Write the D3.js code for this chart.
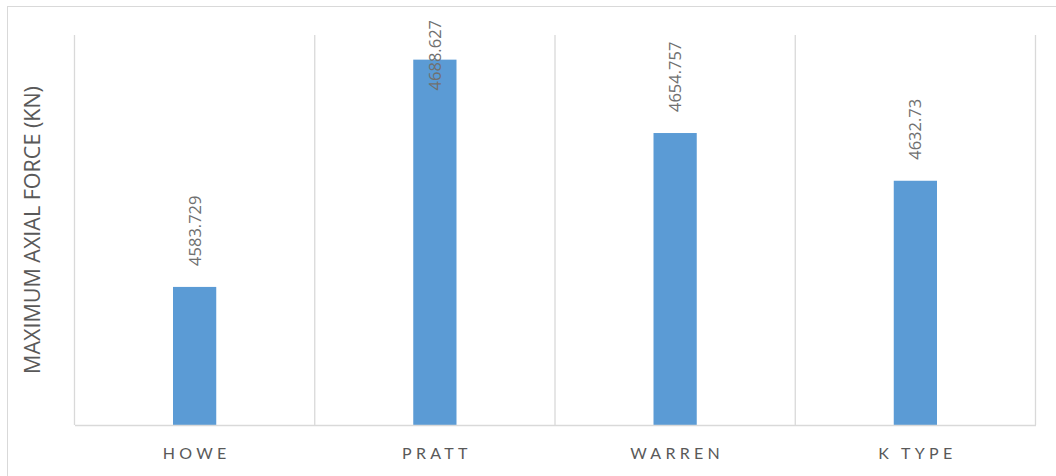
<!DOCTYPE html>
<html><head><meta charset="utf-8">
<script src="https://cdn.jsdelivr.net/npm/d3@7"></script>
<style>body{margin:0;background:#fff}svg{display:block}</style>
</head><body>
<script>
const categories = ["HOWE", "PRATT", "WARREN", "K TYPE"];
const values = [4583.729, 4688.627, 4654.757, 4632.73];
const valueLabels = ["4583.729", "4688.627", "4654.757", "4632.73"];
const yDomain = [4520, 4700];
const yTitle = "MAXIMUM AXIAL FORCE (KN)";

const W = 1056, H = 476;
const m = {left: 74.5, right: 20.5, top: 35, bottom: 51};
const svg = d3.select("body").append("svg").attr("width", W).attr("height", H);
svg.append("rect").attr("x", 7.5).attr("y", 6.5).attr("width", W + 10).attr("height", H + 10)
  .attr("fill", "#fff").attr("stroke", "#d9d9d9").attr("stroke-width", 1);

const x = d3.scaleBand().domain(categories).range([m.left, W - m.right]).paddingInner(0).paddingOuter(0);
const y = d3.scaleLinear().domain(yDomain).range([H - m.bottom, m.top]);

const bounds = categories.map(c => x(c)).concat([x(categories[categories.length-1]) + x.bandwidth()]);
svg.append("g").selectAll("line").data(bounds).join("line")
  .attr("x1", d => d).attr("x2", d => d).attr("y1", m.top).attr("y2", H - m.bottom)
  .attr("stroke", "#d9d9d9").attr("stroke-width", 1.3);

const bw = x.bandwidth() * 0.18;
svg.append("g").selectAll("rect").data(values).join("rect")
  .attr("x", (d, i) => x(categories[i]) + x.bandwidth() / 2 - bw / 2)
  .attr("width", bw)
  .attr("y", d => y(d))
  .attr("height", d => y(yDomain[0]) - y(d))
  .attr("fill", "#5b9bd5");

const xAxis = d3.axisBottom(x).tickSize(0).tickPadding(0);
const gx = svg.append("g").attr("transform", `translate(0,${H - m.bottom})`).call(xAxis);
gx.select(".domain").attr("stroke", "#d9d9d9").attr("stroke-width", 1.5);
gx.selectAll("text").attr("dy", "0").attr("y", 34)
  .attr("fill", "#595959").style("font-family", "Lato, 'Open Sans', sans-serif")
  .style("font-size", "16px").style("letter-spacing", "4.3px")
  .attr("text-anchor", "middle").attr("dx", 2);

const lbl = svg.append("g").selectAll("text").data(values).join("text")
  .text((d, i) => valueLabels[i])
  .attr("fill", "#707070")
  .style("font-family", "'Open Sans', sans-serif").style("font-size", "16.5px")
  .attr("text-anchor", "start");
lbl.each(function(d, i) {
  const len = this.getComputedTextLength();
  let start = y(d) - 21;
  if (start - len < 20) start = 20 + len;
  const cx = x(categories[i]) + x.bandwidth() / 2 + 6;
  d3.select(this).attr("transform", `translate(${cx},${start}) rotate(-90)`);
});

svg.append("text").text(yTitle)
  .attr("transform", `translate(40,${m.top + (H - m.bottom - m.top) / 2}) rotate(-90)`)
  .attr("text-anchor", "middle").attr("fill", "#595959")
  .style("font-family", "'Open Sans', sans-serif").style("font-size", "21.5px");
</script>
</body></html>
